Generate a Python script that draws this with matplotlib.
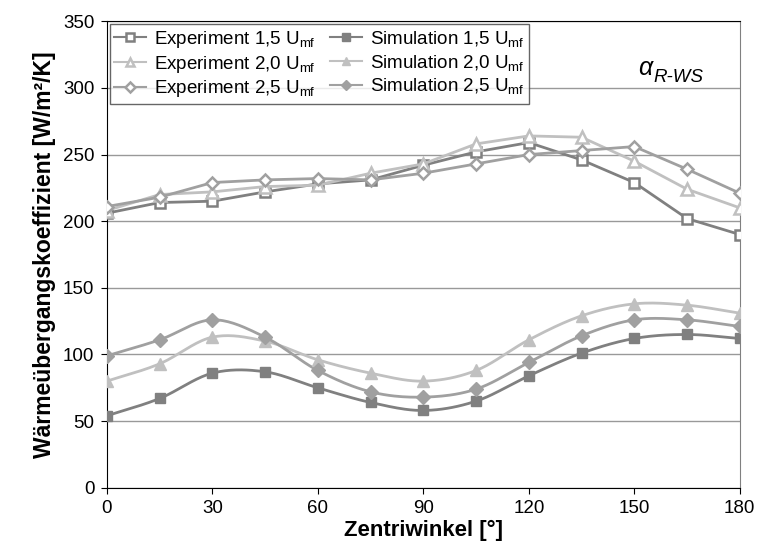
import numpy as np
import matplotlib
matplotlib.use('Agg')
import matplotlib.pyplot as plt

plt.rcParams['font.family'] = ['Liberation Sans', 'DejaVu Sans']
plt.rcParams['mathtext.fontset'] = 'custom'
plt.rcParams['mathtext.rm'] = 'Liberation Sans'
plt.rcParams['mathtext.it'] = 'Liberation Sans:italic'
plt.rcParams['mathtext.bf'] = 'Liberation Sans:bold'

# Zentriwinkel [°]
winkel = [0, 15, 30, 45, 60, 75, 90, 105, 120, 135, 150, 165, 180]

# Experiment
exp_15 = [206, 214, 215, 222, 228, 231, 242, 252, 259, 246, 229, 202, 190]
exp_20 = [208, 220, 222, 226, 227, 236, 243, 258, 264, 263, 245, 224, 210]
exp_25 = [211, 218, 229, 231, 232, 231, 236, 243, 250, 253, 256, 239, 221]

# Simulation
sim_15 = [54, 67, 86, 87, 75, 64, 58, 65, 84, 101, 112, 115, 112]
sim_20 = [80, 93, 113, 110, 96, 86, 80, 88, 111, 129, 138, 137, 131]
sim_25 = [99, 111, 126, 113, 88, 72, 68, 74, 94, 114, 126, 126, 121]

farben = ['#808080', '#c0c0c0', '#a0a0a0']
marker = ['s', '^', 'D']
groesse = [7.5, 8.5, 7]
faktoren = ['1,5', '2,0', '2,5']


def glatt(x, y, n=20):
    # Catmull-Rom Kurve durch die Punkte (wie Excel "geglättete Linie")
    x = np.asarray(x, float)
    y = np.asarray(y, float)
    px = np.concatenate([[2 * x[0] - x[1]], x, [2 * x[-1] - x[-2]]])
    py = np.concatenate([[2 * y[0] - y[1]], y, [2 * y[-1] - y[-2]]])
    xs, ys = [], []
    t = np.linspace(0, 1, n, endpoint=False)
    for i in range(1, len(px) - 2):
        for p, out in ((px, xs), (py, ys)):
            p0, p1, p2, p3 = p[i - 1], p[i], p[i + 1], p[i + 2]
            out.extend(0.5 * (2 * p1 + (-p0 + p2) * t
                              + (2 * p0 - 5 * p1 + 4 * p2 - p3) * t ** 2
                              + (-p0 + 3 * p1 - 3 * p2 + p3) * t ** 3))
    xs.append(x[-1])
    ys.append(y[-1])
    return xs, ys


fig = plt.figure(figsize=(7.58, 5.6), dpi=100)
ax = fig.add_axes([0.141, 0.129, 0.835, 0.833])

for exp, f, m, g, fak in zip([exp_15, exp_20, exp_25], farben, marker, groesse, faktoren):
    ax.plot(winkel, exp, color=f, lw=2, marker=m, ms=g - 0.5, mfc='white', mew=1.8,
            label='Experiment ' + fak + r' U$_{\mathrm{mf}}$', zorder=3)

for sim, f, m, g, fak in zip([sim_15, sim_20, sim_25], farben, marker, groesse, faktoren):
    xs, ys = glatt(winkel, sim)
    ax.plot(xs, ys, color=f, lw=2, zorder=3)
    ax.plot(winkel, sim, ls='none', color=f, marker=m, ms=g, zorder=4)
    ax.plot([], [], color=f, lw=2, marker=m, ms=g,
            label='Simulation ' + fak + r' U$_{\mathrm{mf}}$')

ax.set_xlim(0, 180)
ax.set_ylim(0, 350)
ax.set_xticks(range(0, 181, 30))
ax.set_yticks(range(0, 351, 50))
ax.tick_params(labelsize=13.5, direction='out', length=4, color='black', pad=5)
ax.grid(axis='y', color='#999999', lw=1)
ax.set_axisbelow(True)
ax.spines['right'].set_color('#808080')
for s in ['left', 'bottom', 'top']:
    ax.spines[s].set_color('black')

ax.set_xlabel('Zentriwinkel [°]', fontsize=16, fontweight='bold', labelpad=2)
ax.set_ylabel('Wärmeübergangskoeffizient [W/m²/K]', fontsize=16.5,
              fontweight='bold', labelpad=5)

ax.text(0.84, 0.885, 'α', transform=ax.transAxes, fontsize=18,
        style='italic', ha='left', va='baseline')
ax.text(0.864, 0.870, 'R-WS', transform=ax.transAxes, fontsize=13.5,
        style='italic', ha='left', va='baseline')

leg = ax.legend(loc='upper left', ncol=2, fontsize=13.5, frameon=True,
                fancybox=False, edgecolor='#404040', borderaxespad=0.15,
                handlelength=1.7, handletextpad=0.4, columnspacing=0.8,
                labelspacing=0.2, borderpad=0.25, markerscale=0.75)
leg.get_frame().set_linewidth(1)
for h in leg.get_lines():
    h.set_linewidth(1.5)

fig.savefig('out.png', dpi=100)
